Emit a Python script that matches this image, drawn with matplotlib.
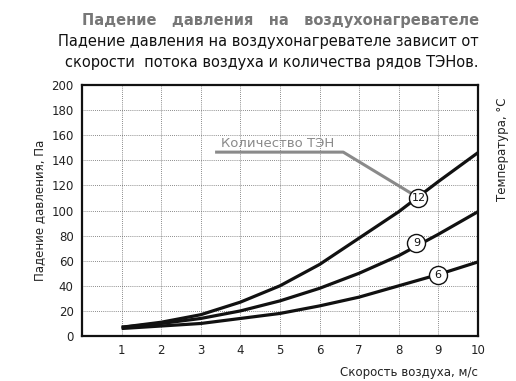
import matplotlib
matplotlib.use("Agg")
import matplotlib.pyplot as plt

# Data
speed = [1, 2, 3, 4, 5, 6, 7, 8, 9, 10]
drop_12 = [7, 11, 17, 27, 40, 57, 78, 99, 123, 146]
drop_9 = [7, 10, 14, 20, 28, 38, 50, 64, 81, 99]
drop_6 = [6, 8, 10, 14, 18, 24, 31, 40, 49, 59]
series_labels = ["12", "9", "6"]
label_pos = [(8.5, 110), (8.45, 74), (9.0, 49)]

fig = plt.figure(figsize=(5.16, 3.81), dpi=100)
ax = fig.add_axes([0.159, 0.118, 0.767, 0.659])

for ys in (drop_12, drop_9, drop_6):
    ax.plot(speed, ys, color="#111111", linewidth=2.3, solid_capstyle="butt")

# Circled count labels
for lab, (x, y) in zip(series_labels, label_pos):
    ax.plot(x, y, "o", markersize=13, markerfacecolor="white",
            markeredgecolor="#111111", markeredgewidth=1.0, zorder=5)
    ax.text(x, y, lab, ha="center", va="center", fontsize=8, zorder=6,
            color="#111111")

# Annotation "Количество ТЭН"
gray = "#8a8a8a"
ax.plot([3.4, 6.6, 8.3], [146.5, 146.5, 114], color=gray, linewidth=2.2,
        zorder=4)
ax.text(3.5, 148, "Количество ТЭН", fontsize=9.5, color=gray,
        ha="left", va="bottom")

ax.set_xlim(0, 10)
ax.set_ylim(0, 200)
ax.set_xticks(range(1, 11))
ax.set_yticks(range(0, 201, 20))
ax.grid(True, linestyle=(0, (1, 1.5)), color="#666666", linewidth=0.6)
ax.tick_params(length=0, labelsize=8.5, labelcolor="#222222", pad=6)
for s in ax.spines.values():
    s.set_linewidth(1.6)
    s.set_color("#111111")

ax.set_ylabel("Падение давления, Па", fontsize=8.5, color="#222222")
ax.set_xlabel("Скорость воздуха, м/с", fontsize=8.5, color="#222222",
              loc="right", labelpad=6)
fig.text(0.973, 0.743, "Температура, °C", rotation=90, fontsize=8.5,
         color="#222222", ha="center", va="top")

fig.text(0.928, 0.945, "Падение   давления   на   воздухонагревателе",
         fontsize=10.5, fontweight="bold", color="#777777", ha="right",
         va="center")
fig.text(0.928, 0.89, "Падение давления на воздухонагревателе зависит от",
         fontsize=10.5, color="#111111", ha="right", va="center")
fig.text(0.928, 0.835, "скорости  потока воздуха и количества рядов ТЭНов.",
         fontsize=10.5, color="#111111", ha="right", va="center")

fig.savefig("out.png", dpi=100, facecolor="white")
